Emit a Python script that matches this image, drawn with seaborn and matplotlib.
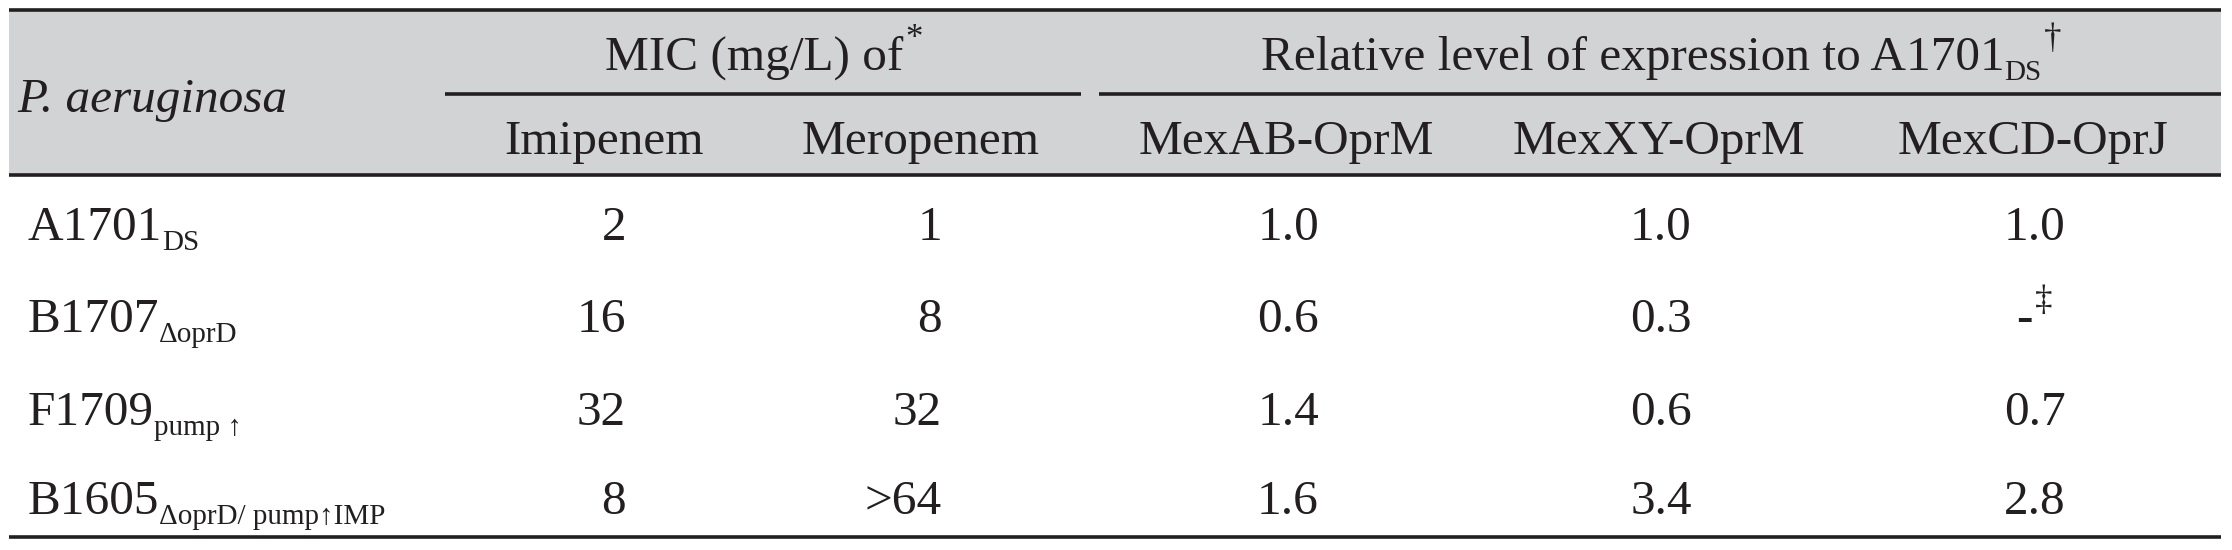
import matplotlib
matplotlib.use("Agg")
import matplotlib.pyplot as plt
import seaborn as sns

# table content
strains = ["A1701", "B1707", "F1709", "B1605"]
strain_tags = ["DS", "\u0394oprD", "pump \u2191", "\u0394oprD/ pump\u2191IMP"]
imipenem = ["2", "16", "32", "8"]
meropenem = ["1", "8", "32", ">64"]
mexab = [1.0, 0.6, 1.4, 1.6]
mexxy = [1.0, 0.3, 0.6, 3.4]
mexcd = [1.0, None, 0.7, 2.8]
col_names = ["Imipenem", "Meropenem", "MexAB-OprM", "MexXY-OprM", "MexCD-OprJ"]

sns.set_theme(style="white")
plt.rcParams["font.family"] = ["Liberation Serif", "DejaVu Serif"]

INK = "#231f20"
GREY = "#d1d3d4"
FS = 35.5
FS_SUB = 21
FS_SUP = 25

fig = plt.figure(figsize=(22.32, 5.5), dpi=100)
ax = fig.add_axes([0, 0, 1, 1])
ax.set_xlim(0, 2232)
ax.set_ylim(550, 0)
ax.axis("off")
renderer = fig.canvas.get_renderer()


def rich(x, y, parts, ha="left", style="normal"):
    # parts = [(text, kind)], kind: n / sub / sup ; y is the baseline
    arts = []
    cur = x
    for txt, kind in parts:
        if kind == "n":
            t = ax.text(cur, y, txt, fontsize=FS, color=INK, va="baseline", style=style)
        elif kind == "sub":
            t = ax.text(cur, y + 10, txt, fontsize=FS_SUB, color=INK, va="baseline")
        else:
            t = ax.text(cur + 2, y - 22, txt, fontsize=FS_SUP, color=INK, va="baseline")
        w = t.get_window_extent(renderer).width
        arts.append(t)
        cur += w
    total = cur - x
    shift = 0
    if ha == "center":
        shift = -total / 2
    elif ha == "right":
        shift = -total
    for t in arts:
        px, py = t.get_position()
        t.set_position((px + shift, py))
    return arts


# header band and rules
left, right = 9, 2221
ax.fill_between([left, right], 10, 175, color=GREY, lw=0)
ax.hlines([10, 175, 537], left, right, colors=INK, lw=2.6)
ax.hlines(94, 445, 1081, colors=INK, lw=2.6)
ax.hlines(94, 1099, right, colors=INK, lw=2.6)

# headers
rich(17, 112, [("P. aeruginosa", "n")], style="italic")
rich(763, 70, [("MIC (mg/L) of", "n"), ("*", "sup")], ha="center")
rich(1660, 70, [("Relative level of expression to A1701", "n"), ("DS", "sub"),
                ("\u2020", "sup")], ha="center")
head_x = [604, 921, 1286, 1659, 2033]
for hx, name in zip(head_x, col_names):
    rich(hx, 154, [(name, "n")], ha="center")

# body
baselines = [240, 332, 425, 514]
for i, yb in enumerate(baselines):
    rich(28, yb, [(strains[i], "n"), (strain_tags[i], "sub")])
    rich(626, yb, [(imipenem[i], "n")], ha="right")
    rich(942, yb, [(meropenem[i], "n")], ha="right")
    rich(1288, yb, [(f"{mexab[i]:.1f}", "n")], ha="center")
    rich(1661, yb, [(f"{mexxy[i]:.1f}", "n")], ha="center")
    if mexcd[i] is None:
        rich(2033, yb, [("-", "n"), ("\u2021", "sup")], ha="center")
    else:
        rich(2035, yb, [(f"{mexcd[i]:.1f}", "n")], ha="center")

fig.savefig("out.png", dpi=100, facecolor="white")
